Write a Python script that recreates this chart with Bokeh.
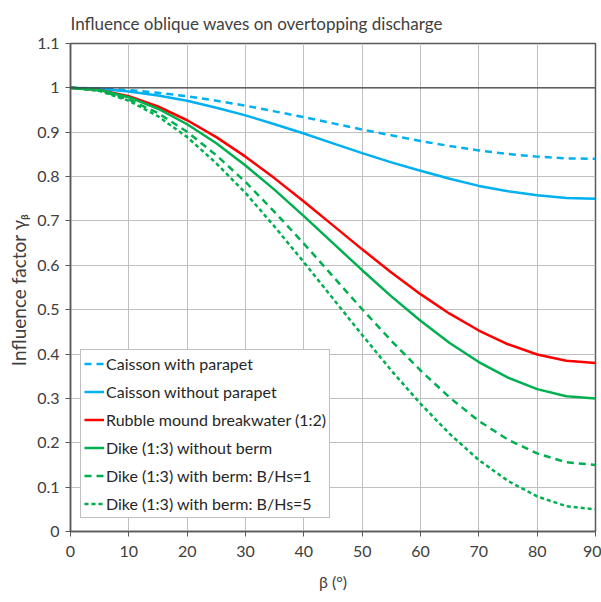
from bokeh.plotting import figure
from bokeh.models import Span, Legend, LegendItem, FixedTicker, Range1d
from bokeh.embed import file_html
from bokeh.resources import INLINE

beta = [0, 5, 10, 15, 20, 25, 30, 35, 40, 45, 50, 55, 60, 65, 70, 75, 80, 85, 90]

caisson_parapet = [1.0, 0.999, 0.995, 0.989, 0.981, 0.971, 0.960, 0.947, 0.934, 0.920,
                   0.906, 0.893, 0.880, 0.869, 0.859, 0.851, 0.845, 0.841, 0.840]
caisson_no_parapet = [1.0, 0.998, 0.992, 0.983, 0.971, 0.955, 0.938, 0.918, 0.897, 0.875,
                      0.853, 0.832, 0.813, 0.795, 0.779, 0.767, 0.758, 0.752, 0.750]
rubble_mound = [1.0, 0.995, 0.981, 0.958, 0.927, 0.889, 0.845, 0.796, 0.744, 0.690,
                0.636, 0.584, 0.535, 0.491, 0.453, 0.422, 0.399, 0.385, 0.380]
dike_no_berm = [1.0, 0.995, 0.979, 0.953, 0.918, 0.875, 0.825, 0.770, 0.711, 0.650,
                0.589, 0.530, 0.475, 0.425, 0.382, 0.347, 0.321, 0.305, 0.300]
dike_berm1 = [1.0, 0.994, 0.974, 0.943, 0.901, 0.848, 0.788, 0.720, 0.649, 0.575,
              0.501, 0.430, 0.363, 0.302, 0.249, 0.207, 0.176, 0.156, 0.150]
dike_berm5 = [1.0, 0.993, 0.971, 0.936, 0.889, 0.830, 0.763, 0.687, 0.607, 0.525,
              0.443, 0.363, 0.288, 0.220, 0.161, 0.114, 0.079, 0.057, 0.050]

x_ticks = [0, 10, 20, 30, 40, 50, 60, 70, 80, 90]
y_ticks = [0, 0.1, 0.2, 0.3, 0.4, 0.5, 0.6, 0.7, 0.8, 0.9, 1.0, 1.1]

FONT = "Lato"
TXT = "#404040"
BLUE = "#00B0F0"
RED = "#FF0000"
GREEN = "#00B050"

p = figure(width=601, height=602, output_backend="svg", toolbar_location=None,
           x_range=Range1d(0, 90), y_range=Range1d(0, 1.1),
           min_border_left=70, min_border_right=6, min_border_top=42, min_border_bottom=71,
           title="Influence oblique waves on overtopping discharge")

p.title.text_font = FONT
p.title.text_font_size = "17px"
p.title.text_font_style = "normal"
p.title.text_color = TXT
p.title.offset = 0
p.title.standoff = 20

p.outline_line_color = "#595959"
p.outline_line_width = 1.5
p.background_fill_color = "white"
p.border_fill_color = "white"

for ax in (p.xaxis[0], p.yaxis[0]):
    ax.axis_line_color = "#595959"
    ax.axis_line_width = 1.5
    ax.major_tick_line_color = "#595959"
    ax.major_tick_out = 5
    ax.major_tick_in = 0
    ax.minor_tick_line_color = None
    ax.major_label_text_font = FONT
    ax.major_label_text_font_size = "16px"
    ax.major_label_text_color = TXT
    ax.axis_label_text_font = FONT
    ax.axis_label_text_font_style = "normal"
    ax.axis_label_text_color = TXT

p.xaxis.ticker = FixedTicker(ticks=x_ticks)
p.yaxis.ticker = FixedTicker(ticks=y_ticks)
p.yaxis.major_label_overrides = {0: "0", 1.0: "1"}
p.xaxis.major_label_standoff = 9
p.yaxis.major_label_standoff = 6
p.xaxis.axis_label = "β (°)"
p.xaxis.axis_label_text_font_size = "16px"
p.xaxis.axis_label_standoff = 12
p.yaxis.axis_label = "Influence factor  γᵦ"
p.yaxis.axis_label_text_font_size = "19px"
p.yaxis.axis_label_standoff = 4

p.xgrid.ticker = FixedTicker(ticks=x_ticks)
p.ygrid.ticker = FixedTicker(ticks=y_ticks)
p.xgrid.grid_line_color = "#BFBFBF"
p.ygrid.grid_line_color = "#BFBFBF"
p.xgrid.grid_line_width = 1
p.ygrid.grid_line_width = 1

p.add_layout(Span(location=1.0, dimension="width", line_color="#404040", line_width=1.2))

lw = 2.5
r1 = p.line(beta, caisson_parapet, line_color=BLUE, line_width=lw, line_dash="7 5")
r2 = p.line(beta, caisson_no_parapet, line_color=BLUE, line_width=lw)
r3 = p.line(beta, rubble_mound, line_color=RED, line_width=lw)
r4 = p.line(beta, dike_no_berm, line_color=GREEN, line_width=lw)
r5 = p.line(beta, dike_berm1, line_color=GREEN, line_width=lw, line_dash="7 5")
r6 = p.line(beta, dike_berm5, line_color=GREEN, line_width=lw, line_dash="4 3")

legend = Legend(items=[
    LegendItem(label="Caisson with parapet", renderers=[r1]),
    LegendItem(label="Caisson without parapet", renderers=[r2]),
    LegendItem(label="Rubble mound breakwater (1:2)", renderers=[r3]),
    LegendItem(label="Dike (1:3) without berm", renderers=[r4]),
    LegendItem(label="Dike (1:3) with berm: B/Hs=1", renderers=[r5]),
    LegendItem(label="Dike (1:3) with berm: B/Hs=5", renderers=[r6]),
], location=(10, 13))
legend.label_text_font = FONT
legend.label_text_font_size = "16px"
legend.label_text_color = "#262626"
legend.glyph_width = 20
legend.glyph_height = 21
legend.label_height = 21
legend.label_standoff = 2
legend.spacing = 7
legend.padding = 3
legend.margin = 0
legend.border_line_color = "#7F7F7F"
legend.border_line_width = 1.5
legend.background_fill_color = "white"
legend.background_fill_alpha = 1.0
p.add_layout(legend, "center")

open("out.html", "w").write(file_html(p, INLINE))
